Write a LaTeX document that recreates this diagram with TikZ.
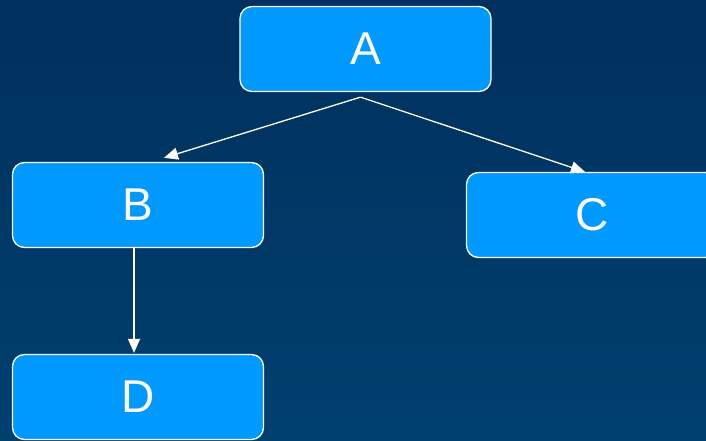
\documentclass[tikz,border=0pt]{standalone}
\usepackage{fontspec}
\setmainfont{Liberation Sans}
\usetikzlibrary{arrows.meta}

\definecolor{bgtop}{HTML}{00305E}
\definecolor{bgbot}{HTML}{00406F}
\definecolor{boxfill}{HTML}{0099FF}

\tikzset{
  box/.style={draw=white, line width=1.3pt, fill=boxfill, rounded corners=12pt,
    minimum width=251pt, minimum height=85pt, text=white,
    font=\fontsize{46}{50}\selectfont},
  link/.style={draw=white, line width=1.3pt, -{Triangle[length=14pt,width=12pt]}}
}

\begin{document}
\begin{tikzpicture}[x=1pt,y=1pt]
     \shade[top color=bgtop, bottom color=bgbot] (0,0) rectangle (706,440);
     \useasboundingbox (0,0) rectangle (706,440);
     % the four boxes
     \node[box] (A) at (365.5,391) {A};
     \node[box] (B) at (138,235) {B};
     \node[box] (C) at (592,225) {C};
     \node[box] (D) at (138,43) {D};
     % arrows leave from a point just under A
     \coordinate (fork) at ([xshift=-5pt,yshift=-5pt]A.south);
     \draw[link] (fork) -- ([xshift=26pt,yshift=4pt]B.north);
     \draw[link] (fork) -- ([xshift=-7pt,yshift=0pt]C.north);
     \draw[link] ([xshift=-4pt]B.south) -- ([xshift=-4pt,yshift=1pt]D.north);
    \end{tikzpicture}
\end{document}
